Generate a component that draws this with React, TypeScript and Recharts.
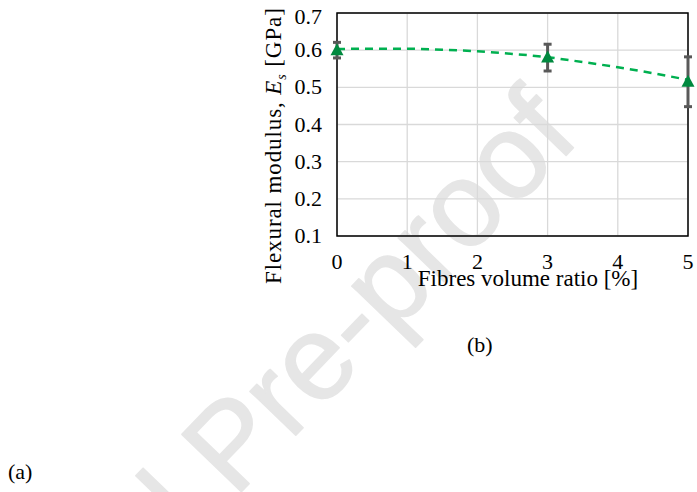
import React from "react";
import { ComposedChart, Line, Scatter, XAxis, YAxis, CartesianGrid, ErrorBar, ReferenceArea } from "recharts";

// measured flexural modulus (GPa) vs fibre volume ratio (%)
const ratio = [0, 3, 5];
const modulus = [0.6, 0.58, 0.515];
const modulusErr = [0.021, 0.036, 0.067];

// dashed trend curve
const fitX = [0, 0.5, 1, 1.5, 2, 2.5, 3, 3.5, 4, 4.5, 5];
const fitY = [0.603, 0.604, 0.604, 0.601, 0.597, 0.59, 0.581, 0.568, 0.554, 0.538, 0.52];

const xTicks = [0, 1, 2, 3, 4, 5];
const yTicks = [0.1, 0.2, 0.3, 0.4, 0.5, 0.6, 0.7];

const measured = ratio.map((x, i) => ({ x, y: modulus[i], err: modulusErr[i] }));
const fit = fitX.map((x, i) => ({ x, y: fitY[i] }));

const SERIF = "'Liberation Serif', 'DejaVu Serif', serif";

const XTick = ({ x, y, payload }: any) => (
  <text x={x} y={y + 33} textAnchor="middle" fontFamily={SERIF} fontSize={22} fill="#000">
    {payload.value}
  </text>
);

const YTick = ({ x, y, payload }: any) => (
  <text x={x - 15} y={y + 7 + (payload.value === 0.7 ? 4 : 0)} textAnchor="end" fontFamily={SERIF} fontSize={22} fill="#000">
    {Number(payload.value).toFixed(1)}
  </text>
);

const YTitle = () => (
  <text
    x={281}
    y={284}
    transform="rotate(-90, 281, 284)"
    textAnchor="start"
    fontFamily={SERIF}
    fontSize={23}
    letterSpacing={0.9}
    fill="#000"
  >
    Flexural modulus,{" "}
    <tspan fontStyle="italic">E</tspan>
    <tspan fontStyle="italic" fontSize={14} dy={5}>s</tspan>
    <tspan dy={-5}> [GPa]</tspan>
  </text>
);

const XTitle = () => (
  <text x={528} y={286} textAnchor="middle" fontFamily={SERIF} fontSize={23} fill="#000">
    Fibres volume ratio [%]
  </text>
);

const Triangle = ({ cx, cy }: any) => (
  <polygon points={`${cx},${cy - 7} ${cx + 6.5},${cy + 5} ${cx - 6.5},${cy + 5}`} fill="#00893f" />
);

export default function App() {
  return (
    <div style={{ position: "absolute", left: 0, top: 0, width: 697, height: 492, overflow: "hidden", background: "#fff" }}>
      <svg width={697} height={492} style={{ position: "absolute", left: 0, top: 0 }}>
        <text
          x={582}
          y={139}
          transform="rotate(-46, 582, 139)"
          textAnchor="end"
          fontFamily="'Liberation Sans', Arial, sans-serif"
          fontSize={120}
          fill="#e6e6e6"
          stroke="#e6e6e6"
          strokeWidth={1.5}
          strokeLinejoin="round"
        >
          Journal Pre-proof
        </text>
        <text x={467} y={352} fontFamily={SERIF} fontSize={22} fill="#000">(b)</text>
        <text x={8} y={479} fontFamily={SERIF} fontSize={22} fill="#000">(a)</text>
      </svg>
      <div style={{ position: "absolute", left: 0, top: 0 }}>
        <ComposedChart width={697} height={492} margin={{ top: 13, right: 9, bottom: 226, left: 0 }}>
          <CartesianGrid stroke="#d9d9d9" strokeWidth={1.3} />
          <XAxis
            type="number"
            dataKey="x"
            domain={[0, 5]}
            ticks={xTicks}
            height={30}
            tickSize={0}
            tickMargin={0}
            axisLine={false}
            tickLine={false}
            tick={<XTick />}
            label={<XTitle />}
          />
          <YAxis
            type="number"
            domain={[0.1, 0.7]}
            ticks={yTicks}
            width={337}
            tickSize={0}
            tickMargin={0}
            axisLine={false}
            tickLine={false}
            tick={<YTick />}
            label={<YTitle />}
            allowDataOverflow
          />
          <ReferenceArea x1={0} x2={5} y1={0.1} y2={0.7} fill="none" fillOpacity={0} stroke="#000" strokeWidth={1.5} ifOverflow="visible" />
          <Line
            data={fit}
            dataKey="y"
            type="monotone"
            stroke="#00b050"
            strokeWidth={2.5}
            strokeDasharray="8 6"
            dot={false}
            activeDot={false}
            isAnimationActive={false}
          />
          <Scatter data={measured} dataKey="y" shape={<Triangle />} isAnimationActive={false}>
            <ErrorBar dataKey="err" direction="y" width={4} strokeWidth={3} stroke="#595959" isAnimationActive={false} />
          </Scatter>
        </ComposedChart>
      </div>
    </div>
  );
}
